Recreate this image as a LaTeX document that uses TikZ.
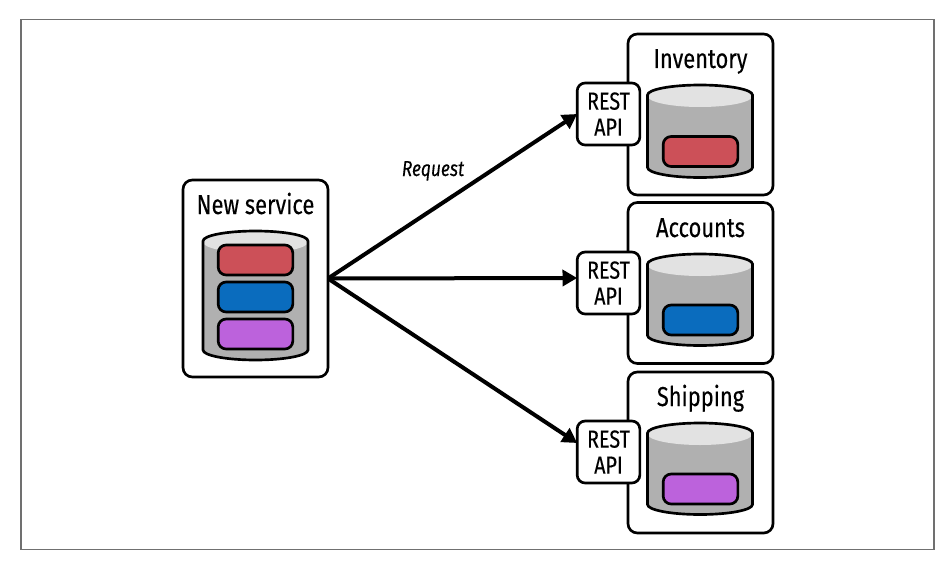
\documentclass[tikz,border=0pt]{standalone}
\usepackage{fontspec}
\setmainfont[FakeStretch=0.8,FakeBold=0.2]{Fira Sans}
\usetikzlibrary{arrows.meta}
\definecolor{framegray}{HTML}{707070}
\definecolor{cylbody}{HTML}{B0B0B0}
\definecolor{cyltop}{HTML}{E2E2E2}
\definecolor{pillred}{HTML}{CC5058}
\definecolor{pillblue}{HTML}{0A6CBE}
\definecolor{pillpurple}{HTML}{BC62DC}
% drum: centre x, y of top ellipse, y of bottom ellipse
\newcommand{\drum}[3]{
	\fill[cylbody] (#1-52.5,#2) -- (#1-52.5,#3) arc[start angle=180, end angle=360, x radius=39.375pt, y radius=7.5pt] -- (#1+52.5,#2) arc[start angle=0, end angle=180, x radius=39.375pt, y radius=7.5pt] -- cycle;
	\fill[cyltop] (#1,#2+1) ellipse[x radius=39.375pt, y radius=8.25pt];
	\draw[line width=2pt] (#1-52.5,#2) -- (#1-52.5,#3) arc[start angle=180, end angle=360, x radius=39.375pt, y radius=7.5pt] -- (#1+52.5,#2) arc[start angle=0, end angle=180, x radius=39.375pt, y radius=7.5pt] -- cycle;
}
\begin{document}
\begin{tikzpicture}[
		x=0.75pt, y=-0.75pt,
		frame/.style={draw=framegray, line width=1pt, minimum width=684.75pt, minimum height=397.5pt, inner sep=0pt, outer sep=0pt},
		service/.style={draw, line width=2pt, rounded corners=7pt, fill=white, minimum width=108.75pt, inner sep=0pt, outer sep=0pt},
		title/.style={anchor=base, font=\fontsize{20.5pt}{24pt}\selectfont, inner sep=0pt},
		pill/.style={draw, line width=2pt, rounded corners=6pt, minimum width=56pt, minimum height=22.5pt, inner sep=0pt, outer sep=0pt},
		rest/.style={draw, line width=2pt, rounded corners=6pt, fill=white, align=center, minimum width=47pt, minimum height=46.5pt, inner sep=0pt, outer sep=0pt, font=\fontsize{18.5pt}{19.5pt}\selectfont},
		arrow/.style={-{Triangle[length=11pt,width=12pt]}, line width=3pt},
	]
	\node[frame] (page) at (477.5,284.5) {};

	\node[service, minimum height=147.75pt] (newservice) at (255.5,278.5) {};
	\node[title] (newtitle) at (255.5,214) {New service};
	\drum{255.5}{241}{350}
	\node[pill, fill=pillred]    (newred)    at (255.5,260) {};
	\node[pill, fill=pillblue]   (newblue)   at (255.5,297) {};
	\node[pill, fill=pillpurple] (newpurple) at (255.5,334) {};

	\node[service, minimum height=120.75pt] (inventory) at (700.5,114.5) {};
	\node[title] (invtitle) at (700.5,68) {Inventory};
	\drum{700}{95}{167.5}
	\node[pill, fill=pillred] (invpill) at (700.5,151.5) {};

	\node[service, minimum height=120.75pt] (accounts) at (700.5,283) {};
	\node[title] (acctitle) at (700.5,237) {Accounts};
	\drum{700}{264}{335.5}
	\node[pill, fill=pillblue] (accpill) at (700.5,320) {};

	\node[service, minimum height=120.75pt] (shipping) at (700.5,452.5) {};
	\node[title] (shiptitle) at (700.5,406) {Shipping};
	\drum{700}{433}{504.5}
	\node[pill, fill=pillpurple] (shippill) at (700.5,489) {};

	\node[rest] (resta) at (608.5,114) {REST\\API};
	\node[rest] (restb) at (608.5,283) {REST\\API};
	\node[rest] (restc) at (608.5,452) {REST\\API};

	\node[anchor=base, inner sep=0pt, font=\fontsize{16.3pt}{18pt}\selectfont\itshape] (request) at (433,176) {Request};

	\draw[arrow] (newservice.east) -- (resta.west);
	\draw[arrow] (newservice.east) -- ([yshift=3.75pt]restb.west);
	\draw[arrow] (newservice.east) -- ([yshift=6.75pt]restc.west);
	\useasboundingbox (0,0) rectangle (948,560);
\end{tikzpicture}
\end{document}
